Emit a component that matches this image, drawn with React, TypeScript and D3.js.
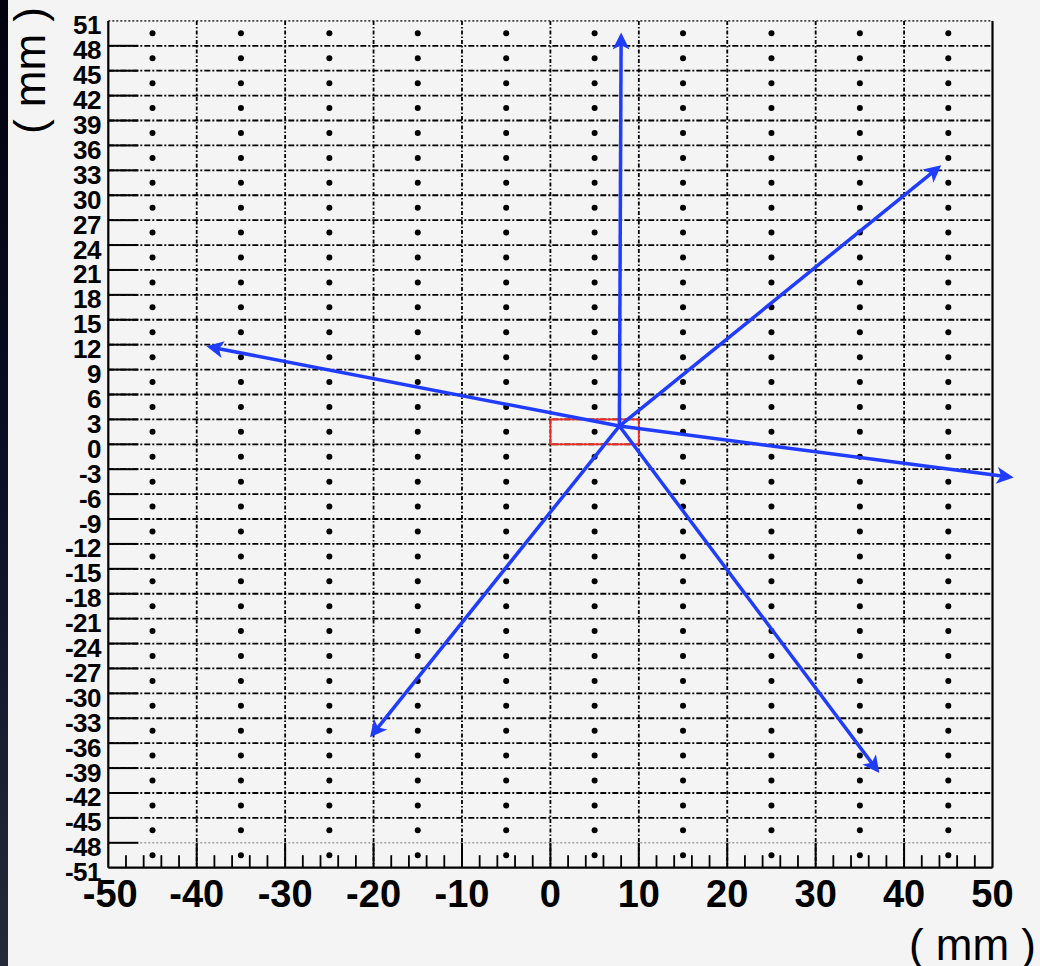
import React from "react";
import * as d3 from "d3";

// ---- data ----
const yTickValues: number[] = [51, 48, 45, 42, 39, 36, 33, 30, 27, 24, 21, 18, 15, 12, 9, 6, 3, 0, -3, -6, -9, -12, -15, -18, -21, -24, -27, -30, -33, -36, -39, -42, -45, -48, -51];
const xTickValues: number[] = [-50, -40, -30, -20, -10, 0, 10, 20, 30, 40, 50];
const xGridValues: number[] = [-40, -30, -20, -10, 0, 10, 20, 30, 40];
const yGridValues: number[] = [48, 45, 42, 39, 36, 33, 30, 27, 24, 21, 18, 15, 12, 9, 6, 3, 0, -3, -6, -9, -12, -15, -18, -21, -24, -27, -30, -33, -36, -39, -42, -45];
const xMinorTicks: number[] = [-48, -46, -44, -42, -38, -36, -34, -32, -28, -26, -24, -22, -18, -16, -14, -12, -8, -6, -4, -2, 2, 4, 6, 8, 12, 14, 16, 18, 22, 24, 26, 28, 32, 34, 36, 38, 42, 44, 46, 48];
const dotColumns: number[] = [-45, -35, -25, -15, -5, 5, 15, 25, 35, 45];
const dotRows: number[] = [49.5, 46.5, 43.5, 40.5, 37.5, 34.5, 31.5, 28.5, 25.5, 22.5, 19.5, 16.5, 13.5, 10.5, 7.5, 4.5, 1.5, -1.5, -4.5, -7.5, -10.5, -13.5, -16.5, -19.5, -22.5, -25.5, -28.5, -31.5, -34.5, -37.5, -40.5, -43.5, -46.5, -49.5];
const arrowOrigin: [number, number] = [7.8, 2.2];
const arrowTips: [number, number][] = [
  [8.0, 49.6],
  [44.2, 33.6],
  [-38.9, 11.8],
  [52.4, -4.0],
  [-20.4, -35.3],
  [37.2, -39.6],
];
const regionRect = { x0: 0, x1: 10, y0: 0, y1: 3 };

export default function App() {
  const W = 1040, H = 966;
  const x = d3.scaleLinear().domain([-50, 50]).range([108.3, 992.5]);
  const y = d3.scaleLinear().domain([-51, 51]).range([867.7, 20.9]);
  const left = x(-50), right = x(50), top = y(51), bottom = y(-51);
  const blue = "#1f3cff";
  const tickLen = 30;

  const arrowHead = (x1: number, y1: number, x2: number, y2: number) => {
    const ang = Math.atan2(y2 - y1, x2 - x1);
    const L = 17, Wd = 8.5;
    const bx = x2 - L * Math.cos(ang), by = y2 - L * Math.sin(ang);
    const px = -Math.sin(ang) * Wd, py = Math.cos(ang) * Wd;
    return `M${x2},${y2} L${bx + px},${by + py} L${bx + L * 0.25 * Math.cos(ang)},${by + L * 0.25 * Math.sin(ang)} L${bx - px},${by - py} Z`;
  };

  return (
    <svg width={W} height={H} style={{ position: "absolute", left: 0, top: 0, display: "block" }} fontFamily="'Liberation Sans', Arial, sans-serif">
      <defs>
        <linearGradient id="strip" x1="0" y1="0" x2="0" y2="1">
          <stop offset="0" stopColor="#02030f" />
          <stop offset="0.5" stopColor="#0a0f26" />
          <stop offset="1" stopColor="#252a3a" />
        </linearGradient>
      </defs>
      <rect x={0} y={0} width={W} height={H} fill="#f4f4f4" />
      <rect x={0} y={0} width={8} height={H} fill="url(#strip)" />

      {/* horizontal grid */}
      {yGridValues.map((v) => (
        <g key={"hg" + v}>
          <line x1={left} x2={right} y1={y(v)} y2={y(v)} stroke="#000" strokeWidth={1.8} strokeDasharray="6 2 2 2" />
          <line x1={left} x2={left + tickLen} y1={y(v)} y2={y(v)} stroke="#000" strokeWidth={2} />
        </g>
      ))}
      {/* -48 line dotted gray */}
      <line x1={left} x2={right} y1={y(-48)} y2={y(-48)} stroke="#a0a0a0" strokeWidth={1.5} strokeDasharray="2 2" />
      <line x1={left} x2={left + tickLen} y1={y(-48)} y2={y(-48)} stroke="#000" strokeWidth={2} />
      {/* top dotted */}
      <line x1={left} x2={right} y1={top} y2={top} stroke="#444" strokeWidth={1.8} strokeDasharray="2 2" />

      {/* vertical grid */}
      {xGridValues.map((v) => (
        <g key={"vg" + v}>
          <line x1={x(v)} x2={x(v)} y1={top} y2={bottom} stroke="#000" strokeWidth={1.8} strokeDasharray="4 2 1.5 2" />
          <line x1={x(v)} x2={x(v)} y1={bottom - 25} y2={bottom} stroke="#000" strokeWidth={2} />
        </g>
      ))}
      {xMinorTicks.map((v) => (
        <line key={"mt" + v} x1={x(v)} x2={x(v)} y1={bottom - 12.5} y2={bottom} stroke="#000" strokeWidth={1.8} />
      ))}

      {/* frame */}
      <line x1={left} x2={left} y1={top} y2={bottom} stroke="#000" strokeWidth={2.2} />
      <line x1={right} x2={right} y1={top} y2={bottom} stroke="#000" strokeWidth={2.2} />
      <line x1={left} x2={right} y1={bottom} y2={bottom} stroke="#000" strokeWidth={2.2} />

      {/* dots */}
      {dotColumns.map((cx) =>
        dotRows.map((cy) => <circle key={cx + "_" + cy} cx={x(cx)} cy={y(cy)} r={3} fill="#000" />)
      )}

      {/* red rectangle */}
      <rect
        x={x(regionRect.x0)}
        y={y(regionRect.y1)}
        width={x(regionRect.x1) - x(regionRect.x0)}
        height={y(regionRect.y0) - y(regionRect.y1)}
        fill="none"
        stroke="#f0281e"
        strokeWidth={1.8}
      />

      {/* arrows */}
      {arrowTips.map(([tx, ty], i) => {
        const x1 = x(arrowOrigin[0]), y1 = y(arrowOrigin[1]);
        const x2 = x(tx), y2 = y(ty);
        const ang = Math.atan2(y2 - y1, x2 - x1);
        return (
          <g key={"ar" + i}>
            <line x1={x1} y1={y1} x2={x2 - 10 * Math.cos(ang)} y2={y2 - 10 * Math.sin(ang)} stroke={blue} strokeWidth={3.5} />
            <path d={arrowHead(x1, y1, x2, y2)} fill={blue} />
          </g>
        );
      })}

      {/* y tick labels */}
      {yTickValues.map((v) => (
        <text key={"yl" + v} x={101} y={y(v) + 13.5} textAnchor="end" fontSize={26} fontWeight="bold" fill="#000" letterSpacing={-0.5}>
          {v}
        </text>
      ))}
      {/* x tick labels */}
      {xTickValues.map((v) => (
        <text key={"xl" + v} x={x(v) + (v === -50 ? 2 : 0)} y={907} textAnchor="middle" fontSize={38} fontWeight="bold" fill="#000">
          {v}
        </text>
      ))}

      {/* axis titles */}
      <text x={1036} y={960} textAnchor="end" fontSize={44} fill="#000">( mm )</text>
      <text transform="translate(45,7) rotate(-90)" textAnchor="end" fontSize={44} fill="#000">( mm )</text>
    </svg>
  );
}
